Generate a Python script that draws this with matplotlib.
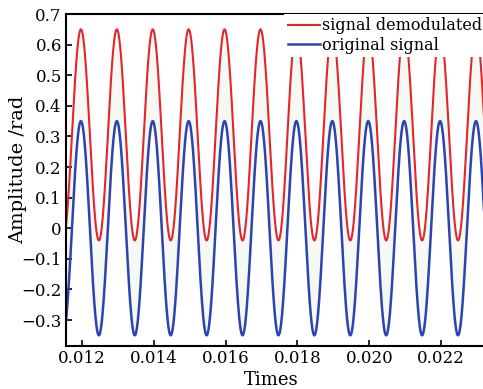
import numpy as np
import matplotlib
matplotlib.use('Agg')
import matplotlib.pyplot as plt

# signal parameters
freq = 1000.0            # Hz, one period per 0.001 s
phase_t0 = 0.01197       # time of a crest
orig_amp = 0.35
orig_offset = 0.0
demod_amp = 0.345
demod_offset = 0.305

x_ticks = [0.012, 0.014, 0.016, 0.018, 0.020, 0.022]
x_labels = ['0.012', '0.014', '0.016', '0.018', '0.020', '0.022']
y_ticks = [-0.3, -0.2, -0.1, 0, 0.1, 0.2, 0.3, 0.4, 0.5, 0.6, 0.7]
y_labels = ['\u22120.3', '\u22120.2', '\u22120.1', '0', '0.1', '0.2', '0.3',
            '0.4', '0.5', '0.6', '0.7']

plt.rcParams['font.family'] = ['DejaVu Serif']

t = np.linspace(0.0115, 0.0235, 3000)
wave = np.cos(2 * np.pi * freq * (t - phase_t0))
original = orig_offset + orig_amp * wave
demodulated = demod_offset + demod_amp * wave

fig = plt.figure(figsize=(4.83, 3.89), dpi=100)
ax = fig.add_axes([0.1366, 0.1105, 0.87, 0.8535])

ax.fill_between(t, original, demodulated, color='#f5f8f3', lw=0)
ax.plot(t, demodulated, color='#e3262b', lw=1.5, label='signal demodulated')
ax.plot(t, original, color='#2b44b0', lw=1.8, label='original signal')

ax.set_xlim(0.011554, 0.023254)
ax.set_ylim(-0.385, 0.7)
ax.set_xticks(x_ticks)
ax.set_xticklabels(x_labels, fontsize=12)
ax.set_yticks(y_ticks)
ax.set_yticklabels(y_labels, fontsize=12)
ax.tick_params(direction='in', length=4, width=1.2, pad=3)
for s in ax.spines.values():
    s.set_linewidth(1.5)

ax.set_xlabel('Times', fontsize=13)
ax.xaxis.set_label_coords(0.4876, -0.075)
ax.xaxis.label.set_va('top')
ax.set_ylabel('Amplitude /rad', fontsize=14)
ax.yaxis.set_label_coords(-0.093, 0.53)

leg = ax.legend(loc='upper left', bbox_to_anchor=(0.52, 1.0),
                borderaxespad=0, borderpad=0.2, labelspacing=0.15,
                handlelength=2.0, handletextpad=0.15, fontsize=11.5,
                frameon=True, fancybox=False)
leg.get_frame().set_edgecolor('none')
leg.get_frame().set_facecolor('white')
leg.get_frame().set_alpha(1.0)

fig.savefig('out.png', dpi=100)
